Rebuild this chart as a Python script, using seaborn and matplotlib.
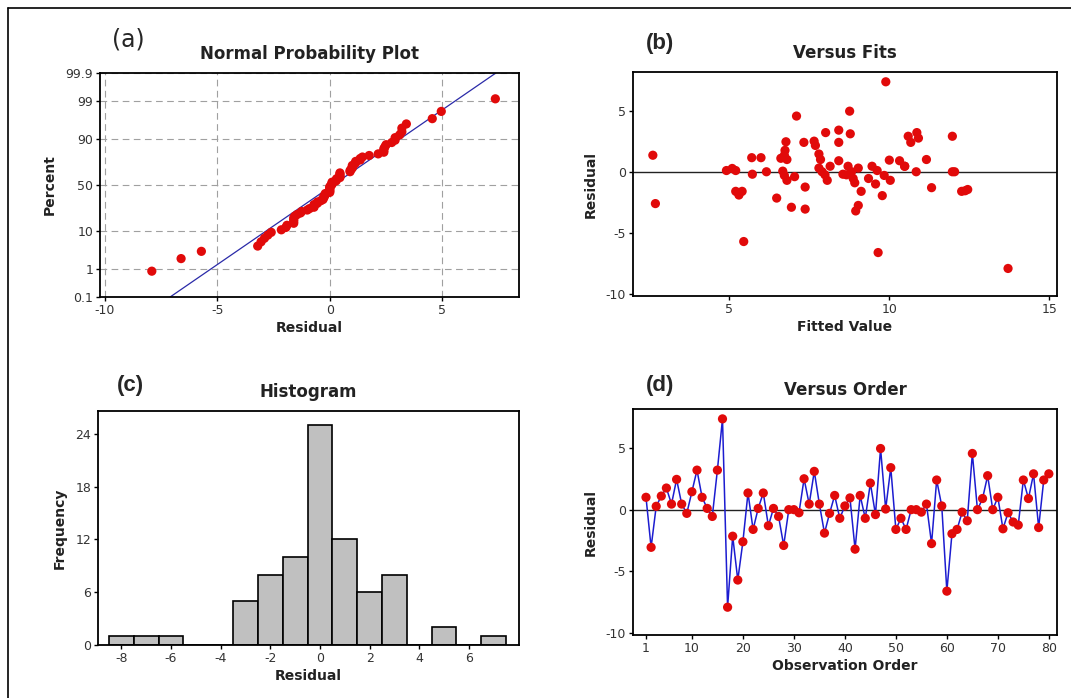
import numpy as np
import pandas as pd
import matplotlib
matplotlib.use('Agg')
import matplotlib.pyplot as plt
from matplotlib.lines import Line2D
import seaborn as sns
from statistics import NormalDist

# ---------------- data ----------------
residuals = [1.0, -3.05, 0.27, 1.1, 1.75, 0.45, 2.45, 0.45, -0.3, 1.45,
             3.2, 1.0, 0.1, -0.55, 3.2, 7.35, -7.9, -2.15, -5.7, -2.6,
             1.35, -1.6, 0.1, 1.35, -1.3, 0.1, -0.55, -2.9, 0.0, 0.0,
             -0.25, 2.5, 0.45, 3.1, 0.45, -1.9, -0.3, 1.15, -0.7, 0.3,
             0.95, -3.2, 1.15, -0.7, 2.15, -0.4, 4.95, 0.05, 3.4, -1.6,
             -0.7, -1.6, 0.0, 0.0, -0.2, 0.45, -2.75, 2.4, 0.3, -6.6,
             -1.95, -1.6, -0.2, -0.9, 4.55, 0.0, 0.9, 2.75, 0.0, 1.0,
             -1.55, -0.25, -1.0, -1.25, 2.4, 0.9, 2.9, -1.45, 2.4, 2.9]

fitted = [7.85, 7.37, 5.09, 6.61, 6.74, 10.48, 6.77, 8.71, 9.84, 7.8,
          10.86, 6.8, 9.62, 9.35, 8.01, 9.89, 13.71, 6.48, 5.45, 2.69,
          6.72, 12.26, 4.91, 2.61, 11.32, 5.2, 8.87, 6.94, 10.84, 11.97,
          7.99, 7.65, 10.48, 8.78, 8.15, 5.3, 6.72, 5.99, 8.06, 7.8,
          10.0, 8.95, 5.7, 10.03, 7.69, 7.04, 8.76, 6.67, 8.42, 5.2,
          6.8, 5.4, 8.82, 6.16, 8.55, 9.46, 9.03, 7.33, 9.03, 9.65,
          9.78, 9.12, 5.72, 8.92, 7.1, 7.9, 8.42, 10.91, 12.04, 11.16,
          12.37, 8.66, 9.57, 7.37, 8.42, 10.32, 11.97, 12.45, 10.67, 10.59]

observation = list(range(1, len(residuals) + 1))

prob_ticks = [0.1, 1, 10, 50, 90, 99, 99.9]
prob_labels = ['0.1', '1', '10', '50', '90', '99', '99.9']
npp_xticks = [-10, -5, 0, 5]
fit_xticks = [5, 10, 15]
res_yticks = [-10, -5, 0, 5]
hist_xticks = [-8, -6, -4, -2, 0, 2, 4, 6]
hist_yticks = [0, 6, 12, 18, 24]
order_xticks = [1, 10, 20, 30, 40, 50, 60, 70, 80]

# ---------------- style ----------------
sns.set_theme(style='white')
plt.rcParams['font.family'] = ['DejaVu Sans']
plt.rcParams['axes.edgecolor'] = 'black'
plt.rcParams['axes.linewidth'] = 1.3
plt.rcParams['axes.unicode_minus'] = False

RED = '#e10a0a'
MS = 44
W, H = 1071, 698
fig = plt.figure(figsize=(W / 100, H / 100), dpi=100)
fig.patch.set_facecolor('white')


def ax_at(l, r, t, b):
    return fig.add_axes([l / W, 1 - b / H, (r - l) / W, (b - t) / H])


def style(ax):
    ax.tick_params(axis='both', which='both', direction='out', length=3, width=1,
                   colors='black', labelcolor='#333333', labelsize=9, pad=2,
                   bottom=True, left=True)
    for s in ax.spines.values():
        s.set_color('black')
        s.set_linewidth(1.3)


def lab(ax, xl, yl):
    ax.set_xlabel(xl, fontsize=10, fontweight='bold', color='#222222', labelpad=3)
    ax.set_ylabel(yl, fontsize=10, fontweight='bold', color='#222222', labelpad=6)


def title(ax, text):
    ax.set_title(text, fontsize=12, fontweight='bold', color='#222222', pad=10)


res = np.array(residuals, dtype=float)
n = len(res)
nd = NormalDist()

# ---------------- (a) Normal probability plot ----------------
ax1 = ax_at(100, 519, 73, 297)
srt = np.sort(res)
pct = (np.arange(1, n + 1) - 0.3) / (n + 0.4)
zq = np.array([nd.inv_cdf(p) for p in pct])
df_prob = pd.DataFrame({'Residual': srt, 'z': zq})
ztick = [nd.inv_cdf(p / 100) for p in prob_ticks]
zlim = nd.inv_cdf(0.999)
mu, sd = res.mean(), res.std(ddof=1)
zz = np.array([-zlim, zlim])
ax1.plot(mu + sd * zz, zz, color='#2a2aa8', lw=0.9, zorder=2)
sns.scatterplot(data=df_prob, x='Residual', y='z', ax=ax1, color=RED,
                s=MS, edgecolor='none', zorder=3)
ax1.set_xlim(-10.2, 8.4)
ax1.set_ylim(-zlim, zlim)
ax1.set_xticks(npp_xticks)
ax1.set_yticks(ztick)
ax1.set_yticklabels(prob_labels)
ax1.grid(True, linestyle=(0, (6, 4)), color='#a0a0a0', lw=0.8)
style(ax1)
lab(ax1, 'Residual', 'Percent')
title(ax1, 'Normal Probability Plot')
fig.text(128 / W, 1 - 40 / H, '(a)', fontsize=17, ha='center', va='center')

# ---------------- (b) Versus fits ----------------
ax2 = ax_at(633, 1057, 72, 296)
df_fit = pd.DataFrame({'Fitted Value': fitted, 'Residual': residuals})
ax2.axhline(0, color='#222222', lw=1.0, zorder=1)
sns.scatterplot(data=df_fit, x='Fitted Value', y='Residual', ax=ax2,
                color=RED, s=MS, edgecolor='none', zorder=3)
ax2.set_xlim(1.99, 15.24)
ax2.set_ylim(-10.15, 8.15)
ax2.set_xticks(fit_xticks)
ax2.set_yticks(res_yticks)
style(ax2)
lab(ax2, 'Fitted Value', 'Residual')
title(ax2, 'Versus Fits')
fig.text(660 / W, 1 - 44 / H, '(b)', fontsize=16, fontweight='bold',
         ha='center', va='center', family='Liberation Sans')

# ---------------- (c) Histogram ----------------
ax3 = ax_at(98, 519, 411, 645)
df_hist = pd.DataFrame({'Residual': residuals})
sns.histplot(data=df_hist, x='Residual', ax=ax3, binwidth=1,
             binrange=(-8.5, 7.5), color='#c0c0c0', edgecolor='black',
             linewidth=1.2, alpha=1)
ax3.set_xlim(-8.94, 8.02)
ax3.set_ylim(0, 26.6)
ax3.set_xticks(hist_xticks)
ax3.set_yticks(hist_yticks)
style(ax3)
lab(ax3, 'Residual', 'Frequency')
title(ax3, 'Histogram')
fig.text(130 / W, 1 - 385 / H, '(c)', fontsize=16, fontweight='bold',
         ha='center', va='center', family='Liberation Sans')

# ---------------- (d) Versus order ----------------
ax4 = ax_at(633, 1057, 409, 635)
df_ord = pd.DataFrame({'Observation Order': observation, 'Residual': residuals})
ax4.axhline(0, color='#222222', lw=1.0, zorder=1)
sns.lineplot(data=df_ord, x='Observation Order', y='Residual', ax=ax4,
             color='#1c1cd0', lw=1.1, zorder=2)
sns.scatterplot(data=df_ord, x='Observation Order', y='Residual', ax=ax4,
                color=RED, s=MS, edgecolor='none', zorder=3)
ax4.set_xlim(-1.55, 81.6)
ax4.set_ylim(-10.15, 8.15)
ax4.set_xticks(order_xticks)
ax4.set_yticks(res_yticks)
style(ax4)
lab(ax4, 'Observation Order', 'Residual')
title(ax4, 'Versus Order')
fig.text(660 / W, 1 - 385 / H, '(d)', fontsize=16, fontweight='bold',
         ha='center', va='center', family='Liberation Sans')

# frame lines (top and left) as in the reference
fig.add_artist(Line2D([8 / W, 8 / W], [0, 1 - 8 / H], color='black', lw=1.2))
fig.add_artist(Line2D([8 / W, 1], [1 - 8 / H, 1 - 8 / H], color='black', lw=1.2))

fig.savefig('out.png', dpi=100, facecolor='white')
